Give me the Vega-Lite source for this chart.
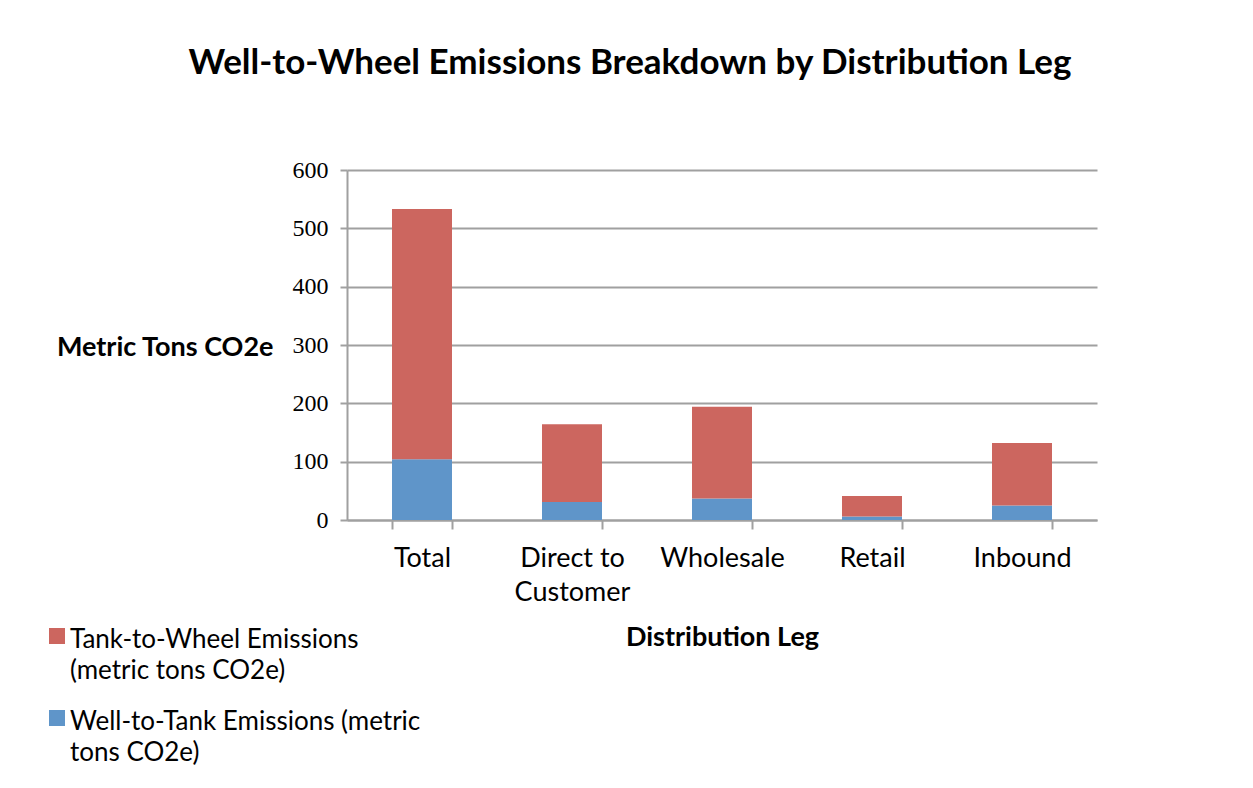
{
  "$schema": "https://vega.github.io/schema/vega-lite/v6.json",
  "width": 750,
  "height": 350,
  "autosize": {"type": "none"},
  "padding": {"left": 347, "top": 170, "right": 156, "bottom": 268},
  "background": "white",
  "title": {
    "text": "Well-to-Wheel Emissions Breakdown by Distribution Leg",
    "font": "Lato",
    "fontSize": 35,
    "fontWeight": "bold",
    "color": "black",
    "anchor": "middle",
    "dx": -92,
    "offset": 77
  },
  "data": {
    "values": [
      {"leg": "Total", "series": "Well-to-Tank Emissions (metric tons CO2e)", "value": 104},
      {"leg": "Total", "series": "Tank-to-Wheel Emissions (metric tons CO2e)", "value": 429},
      {"leg": "Direct to Customer", "series": "Well-to-Tank Emissions (metric tons CO2e)", "value": 31},
      {"leg": "Direct to Customer", "series": "Tank-to-Wheel Emissions (metric tons CO2e)", "value": 133},
      {"leg": "Wholesale", "series": "Well-to-Tank Emissions (metric tons CO2e)", "value": 37},
      {"leg": "Wholesale", "series": "Tank-to-Wheel Emissions (metric tons CO2e)", "value": 157},
      {"leg": "Retail", "series": "Well-to-Tank Emissions (metric tons CO2e)", "value": 6},
      {"leg": "Retail", "series": "Tank-to-Wheel Emissions (metric tons CO2e)", "value": 35},
      {"leg": "Inbound", "series": "Well-to-Tank Emissions (metric tons CO2e)", "value": 25},
      {"leg": "Inbound", "series": "Tank-to-Wheel Emissions (metric tons CO2e)", "value": 107}
    ]
  },
  "mark": {"type": "bar"},
  "encoding": {
    "x": {
      "field": "leg",
      "type": "nominal",
      "sort": ["Total", "Direct to Customer", "Wholesale", "Retail", "Inbound"],
      "scale": {"paddingInner": 0.6, "paddingOuter": 0.3},
      "axis": {
        "title": "Distribution Leg",
        "titleFont": "Lato",
        "titleFontSize": 27,
        "titleFontWeight": "bold",
        "titleColor": "black",
        "titlePadding": 19,
        "labelAngle": 0,
        "labelFont": "Lato",
        "labelFontSize": 27,
        "labelColor": "black",
        "labelPadding": 16,
        "labelLineHeight": 34,
        "labelExpr": "datum.label == 'Direct to Customer' ? ['Direct to', 'Customer'] : datum.label",
        "tickBand": "extent",
        "tickSize": 9,
        "tickColor": "#a0a0a0",
        "tickWidth": 2,
        "domainColor": "#a0a0a0",
        "domainWidth": 2,
        "grid": false
      }
    },
    "y": {
      "field": "value",
      "type": "quantitative",
      "stack": "zero",
      "scale": {"domain": [0, 600], "nice": false},
      "axis": {
        "values": [0, 100, 200, 300, 400, 500, 600],
        "title": "Metric Tons CO2e",
        "titleFont": "Lato",
        "titleFontSize": 27,
        "titleFontWeight": "bold",
        "titleColor": "black",
        "titleAngle": 0,
        "titleAlign": "right",
        "titleBaseline": "middle",
        "titleX": -74,
        "titleY": 177,
        "labelFont": "Liberation Serif",
        "labelFontSize": 24,
        "labelColor": "black",
        "labelPadding": 12,
        "tickSize": 7,
        "tickColor": "#a0a0a0",
        "tickWidth": 2,
        "domainColor": "#a0a0a0",
        "domainWidth": 2,
        "gridColor": "#a0a0a0",
        "gridWidth": 2
      }
    },
    "color": {
      "field": "series",
      "type": "nominal",
      "scale": {
        "domain": ["Tank-to-Wheel Emissions (metric tons CO2e)", "Well-to-Tank Emissions (metric tons CO2e)"],
        "range": ["#CC665F", "#5F95C9"]
      },
      "legend": {
        "title": null,
        "orient": "none",
        "legendX": -303,
        "legendY": 453,
        "symbolType": "square",
        "symbolSize": 256,
        "symbolStrokeWidth": 0,
        "labelFont": "Lato",
        "labelFontSize": 26,
        "labelColor": "black",
        "labelLimit": 420,
        "labelOffset": 0,
        "rowPadding": 21,
        "labelExpr": "datum.label == 'Tank-to-Wheel Emissions (metric tons CO2e)' ? ['Tank-to-Wheel Emissions', '(metric tons CO2e)'] : ['Well-to-Tank Emissions (metric', 'tons CO2e)']",
        "encode": {
          "labels": {"update": {"lineHeight": {"value": 31}, "dy": {"value": 4}}}
        }
      }
    },
    "order": {"field": "series", "sort": "descending"}
  },
  "config": {
    "view": {"stroke": null},
    "axis": {"gridOpacity": 1}
  }
}
